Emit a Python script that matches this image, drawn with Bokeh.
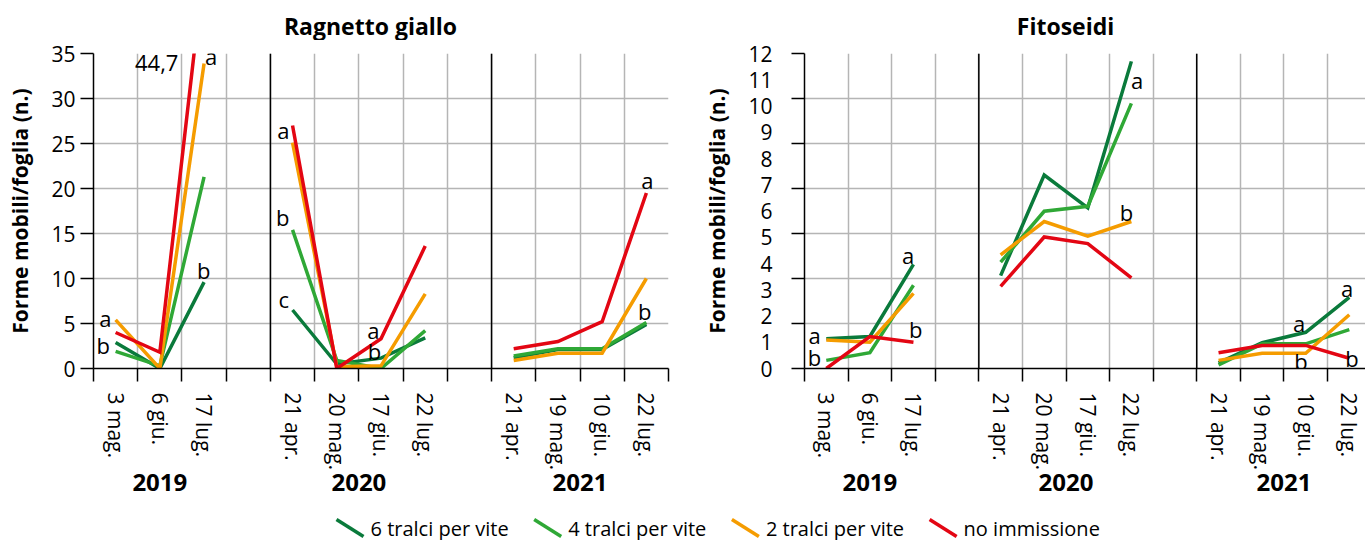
from bokeh.plotting import figure
from bokeh.layouts import column, row
from bokeh.models import Range1d, FixedTicker, Span, LinearAxis
from bokeh.core.properties import value
from bokeh.embed import file_html
from bokeh.resources import INLINE

FONT = "Open Sans"

# --- sampling dates, grouped by season --------------------------------------
year_labels = ["2019", "2020", "2021"]
dates_2019 = ["3 mag.", "6 giu.", "17 lug."]
dates_2020 = ["21 apr.", "20 mag.", "17 giu.", "22 lug."]
dates_2021 = ["21 apr.", "19 mag.", "10 giu.", "22 lug."]
date_groups = [dates_2019, dates_2020, dates_2021]

panel_titles = ["Ragnetto giallo", "Fitoseidi"]
series_names = ["6 tralci per vite", "4 tralci per vite", "2 tralci per vite", "no immissione"]
series_colors = ["#0a7a3b", "#2fa836", "#f59c00", "#e30613"]

# --- Ragnetto giallo: mobile forms per leaf --------------------------------
ragnetto_6 = [2.9, 0.0, 9.6, 6.5, 0.5, 1.15, 3.4, 1.2, 2.1, 2.1, 4.9]
ragnetto_4 = [1.9, 0.3, 21.3, 15.4, 0.9, 0.0, 4.2, 1.4, 2.2, 2.2, 5.1]
ragnetto_2 = [5.4, 0.0, 33.9, 25.1, 0.2, 0.3, 8.3, 0.9, 1.7, 1.7, 10.0]
ragnetto_0 = [4.0, 1.8, 44.7, 27.0, 0.0, 3.3, 13.6, 2.2, 3.0, 5.2, 19.5]

# --- Fitoseidi: mobile forms per leaf --------------------------------------
fitoseidi_6 = [1.13, 1.22, 3.97, 3.54, 7.37, 6.12, 11.7, 0.22, 0.98, 1.38, 2.71]
fitoseidi_4 = [0.31, 0.60, 3.17, 4.05, 5.99, 6.18, 10.1, 0.14, 0.94, 0.94, 1.48]
fitoseidi_2 = [1.09, 1.00, 2.86, 4.33, 5.60, 5.04, 5.60, 0.31, 0.58, 0.58, 2.05]
fitoseidi_0 = [0.00, 1.22, 1.00, 3.13, 5.01, 4.76, 3.45, 0.60, 0.88, 0.88, 0.39]

# significance letters: (letter, x in slot units, y in data units)
ragnetto_letters = [
    ("a", 0.27, 5.6), ("b", 0.22, 2.6),
    ("a", 2.66, 34.7), ("b", 2.49, 10.9),
    ("a", 4.29, 26.5), ("b", 4.28, 16.8), ("c", 4.30, 7.7),
    ("a", 6.33, 4.3), ("b", 6.35, 2.0),
    ("a", 12.52, 21.0), ("b", 12.46, 6.4),
]
fitoseidi_letters = [
    ("a", 0.23, 1.28), ("b", 0.23, 0.43),
    ("a", 2.38, 4.32), ("b", 2.55, 1.52),
    ("a", 7.63, 11.0), ("b", 7.39, 5.97),
    ("a", 11.35, 1.74), ("b", 11.39, 0.30),
    ("a", 12.45, 3.06), ("b", 12.56, 0.40),
]

# slot layout: each season occupies consecutive slots, one empty slot between seasons
group_starts = []
s = 0
for g in date_groups:
    group_starts.append(s)
    s += len(g) + 1
n_slots = s - 1
group_x = [[start + i + 0.5 for i in range(len(g))] for start, g in zip(group_starts, date_groups)]
all_x = [x for gx in group_x for x in gx]
all_dates = [d for g in date_groups for d in g]
year_centers = [sum(gx) / len(gx) for gx in group_x]
separators = group_starts[1:]


def split(vals):
    out, k = [], 0
    for g in date_groups:
        out.append(vals[k:k + len(g)])
        k += len(g)
    return out


def strip(height):
    f = figure(width=1365, height=height, x_range=Range1d(0, 1365), y_range=Range1d(height, 0),
               toolbar_location=None, output_backend="svg", min_border=0)
    f.axis.visible = False
    f.grid.visible = False
    f.outline_line_color = None
    return f


def make_panel(series, y_end, y_ticks, y_grid, y_minor, width, b_left, b_right, b_top,
               x_end, letters):
    p = figure(width=width, height=460, x_range=Range1d(0, x_end), y_range=Range1d(0, y_end),
               toolbar_location=None, output_backend="svg",
               min_border_left=b_left, min_border_right=b_right, min_border_top=b_top,
               min_border_bottom=132)
    p.outline_line_color = None
    p.background_fill_color = "white"

    # grid
    p.xgrid.ticker = FixedTicker(ticks=list(range(0, n_slots + 1)))
    p.ygrid.ticker = FixedTicker(ticks=y_grid)
    for g in (p.xgrid[0], p.ygrid[0]):
        g.grid_line_color = "#b5b5b5"
        g.grid_line_width = 1.5

    for loc in separators:
        p.add_layout(Span(location=loc, dimension="height", line_color="black", line_width=1.5))

    # x axis: boundary ticks, date labels at slot centres
    xa = p.xaxis[0]
    xa.ticker = FixedTicker(ticks=all_x, minor_ticks=list(range(0, n_slots + 1)))
    xa.major_label_overrides = {x: d for x, d in zip(all_x, all_dates)}
    xa.major_label_orientation = "vertical"
    xa.major_tick_out = 0
    xa.major_tick_in = 0
    xa.minor_tick_out = 13
    xa.minor_tick_in = 0
    xa.minor_tick_line_color = "black"
    xa.minor_tick_line_width = 1.5
    xa.axis_line_color = "black"
    xa.axis_line_width = 1.5
    xa.major_label_standoff = 11
    xa.major_label_text_font = FONT
    xa.major_label_text_font_size = "21px"
    xa.major_label_text_color = "black"

    # season labels under the dates
    yr = LinearAxis(ticker=FixedTicker(ticks=year_centers),
                    major_label_overrides={x: y for x, y in zip(year_centers, year_labels)})
    yr.axis_line_color = None
    yr.major_tick_line_color = None
    yr.minor_tick_line_color = None
    yr.major_label_standoff = -5
    yr.major_label_text_font = FONT
    yr.major_label_text_font_size = "24px"
    yr.major_label_text_font_style = "bold"
    yr.major_label_text_color = "black"
    p.add_layout(yr, "below")

    # y axis
    ya = p.yaxis[0]
    if y_minor is None:
        ya.ticker = FixedTicker(ticks=y_ticks)
        ya.major_tick_out = 13
        ya.major_label_standoff = 5
    else:
        ya.ticker = FixedTicker(ticks=y_ticks, minor_ticks=y_minor)
        ya.major_tick_out = 0
        ya.minor_tick_out = 13
        ya.minor_tick_in = 0
        ya.minor_tick_line_color = "black"
        ya.minor_tick_line_width = 1.5
        ya.major_label_standoff = 19
    ya.major_tick_in = 0
    ya.major_tick_line_color = "black"
    ya.major_tick_line_width = 1.5
    ya.axis_line_color = "black"
    ya.axis_line_width = 1.5
    ya.major_label_text_font = FONT
    ya.major_label_text_font_size = "21px"
    ya.major_label_text_color = "black"
    ya.axis_label = "Forme mobili/foglia (n.)"
    ya.axis_label_text_font = FONT
    ya.axis_label_text_font_size = "21px"
    ya.axis_label_text_font_style = "bold"
    ya.axis_label_text_color = "black"
    ya.axis_label_standoff = 14

    # series, one polyline per season
    for vals, color in zip(series, series_colors):
        p.multi_line(xs=group_x, ys=split(vals), line_color=color, line_width=3.5,
                     line_join="miter")

    p.text(x=[l[1] for l in letters], y=[l[2] for l in letters], text=[l[0] for l in letters],
           text_font=value(FONT), text_font_size="22px", text_align="center",
           text_baseline="middle", text_color="black")
    return p


left = make_panel([ragnetto_6, ragnetto_4, ragnetto_2, ragnetto_0],
                  35, list(range(0, 36, 5)), list(range(0, 36, 5)), None,
                  700, 93, 32, 13, n_slots, ragnetto_letters)

# value of the off-scale point, written next to where its line leaves the frame
peak = max(ragnetto_0)
peak_x = all_x[ragnetto_0.index(peak)]
left.text(x=[peak_x - 0.58], y=[34.0], text=[f"{peak}".replace(".", ",")],
          text_font=value(FONT), text_font_size="22px", text_align="right",
          text_baseline="middle", text_color="black")

right = make_panel([fitoseidi_6, fitoseidi_4, fitoseidi_2, fitoseidi_0],
                   12, list(range(0, 13)), [k * 12 / 7 for k in range(8)],
                   [k * 12 / 7 for k in range(8)],
                   665, 98, 0, 9, 567 / 44.05, fitoseidi_letters)

# panel titles
top = strip(40)
top.text(x=[370, 1065], y=[25, 25], text=panel_titles, text_font=value(FONT),
         text_font_size="23px", text_font_style="bold", text_align="center",
         text_baseline="middle", text_color="black")

# legend strip
leg = strip(40)
step = 197.7
x0 = [336 + i * step for i in range(len(series_names))]
leg.segment(x0=x0, y0=[19] * 4, x1=[x + 27 for x in x0], y1=[36] * 4,
            line_color=series_colors, line_width=3.5)
leg.text(x=[x + 34 for x in x0], y=[27.5] * 4, text=series_names,
         text_font=value(FONT), text_font_size="20px", text_baseline="middle",
         text_color="black")

layout = column(top, row(left, right), leg)
open("out.html", "w").write(file_html(layout, INLINE))
